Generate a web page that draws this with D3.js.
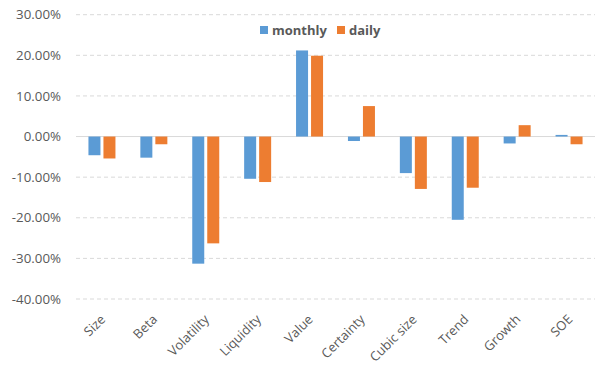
<!DOCTYPE html>
<html><head><meta charset="utf-8">
<script src="https://cdn.jsdelivr.net/npm/d3@7"></script>
<style>body{margin:0;background:#fff}svg{display:block}</style>
</head><body>
<script>
const categories = ["Size","Beta","Volatility","Liquidity","Value","Certainty","Cubic size","Trend","Growth","SOE"];
const monthly = [-4.6,-5.2,-31.3,-10.4,21.2,-1.1,-9.0,-20.5,-1.7,0.4];
const daily = [-5.4,-1.9,-26.3,-11.2,19.9,7.5,-12.9,-12.6,2.8,-1.9];
const seriesNames = ["monthly","daily"];
const yTicks = [30,20,10,0,-10,-20,-30,-40];
const colors = ["#5B9BD5","#ED7D31"];

const W=606,H=366;
const svg=d3.select("body").append("svg").attr("width",W).attr("height",H);
const x=d3.scaleBand().domain(categories).range([76,595]);
const y=d3.scaleLinear().domain([-40,30]).range([299,14.7]);
const font="'Open Sans', 'Liberation Sans', sans-serif";

// grid
svg.append("g").selectAll("line").data(yTicks).join("line")
  .attr("x1",76).attr("x2",595).attr("y1",d=>y(d)).attr("y2",d=>y(d))
  .attr("stroke","#D9D9D9").attr("stroke-width",1)
  .attr("stroke-dasharray",d=>d===0?null:"4,3");

// y labels
svg.append("g").selectAll("text").data(yTicks).join("text")
  .attr("x",61).attr("y",d=>y(d)).attr("dy","0.35em").attr("text-anchor","end")
  .attr("font-family",font).attr("font-size",13.3).attr("fill","#595959")
  .text(d=>d.toFixed(2)+"%");

// bars
const bw=12, gap=3;
const series=[monthly,daily];
series.forEach((vals,si)=>{
  svg.append("g").selectAll("rect").data(categories).join("rect")
    .attr("x",(c)=>x(c)+x.bandwidth()/2 + (si===0? -gap/2-bw : gap/2))
    .attr("width",bw)
    .attr("y",(c,i)=>Math.min(y(vals[i]),y(0)))
    .attr("height",(c,i)=>Math.abs(y(vals[i])-y(0)))
    .attr("fill",colors[si]);
});

// x labels
svg.append("g").selectAll("text").data(categories).join("text")
  .attr("transform",c=>`translate(${x(c)+x.bandwidth()/2+1},${317}) rotate(-45)`)
  .attr("text-anchor","end").attr("dy","0.35em")
  .attr("font-family",font).attr("font-size",13).attr("fill","#595959")
  .text(c=>c);

// legend
const lg=svg.append("g");
const legX=[260,337];
seriesNames.forEach((n,i)=>{
  lg.append("rect").attr("x",legX[i]).attr("y",26).attr("width",8).attr("height",8).attr("fill",colors[i]);
  lg.append("text").attr("x",legX[i]+12).attr("y",30).attr("dy","0.35em")
    .attr("font-family",font).attr("font-size",13).attr("font-weight","bold").attr("fill","#595959").text(n);
});
</script>
</body></html>
